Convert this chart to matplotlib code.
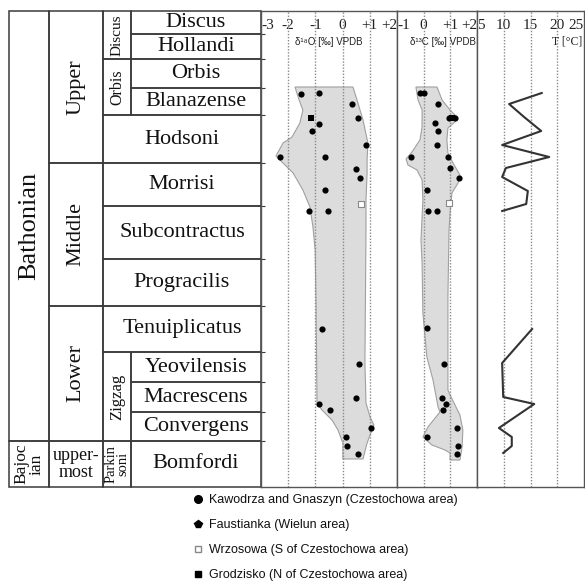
import matplotlib
matplotlib.use('Agg')
import matplotlib.pyplot as plt
from matplotlib.patches import Rectangle
from matplotlib.lines import Line2D

SERIF = ['Liberation Serif', 'DejaVu Serif']
SANS = ['Liberation Sans', 'DejaVu Sans']
LINE = '#3a3a3a'

# ── stratigraphy (heights in chart units, 0 = base of Bomfordi) ──
ZONES = ['Discus', 'Hollandi', 'Orbis', 'Blanazense', 'Hodsoni', 'Morrisi', 'Subcontractus',
         'Progracilis', 'Tenuiplicatus', 'Yeovilensis', 'Macrescens', 'Convergens', 'Bomfordi']
ZONE_BOUNDS = [476, 453, 428, 399, 372, 324, 281, 228, 181, 135, 105, 75, 46, 0]
ZONE_HAS_SUB = [True, True, True, True, False, False, False, False, False, True, True, True, True]

STAGES = ['Bathonian', 'Bajoc\nian']
STAGE_SPAN = [(46, 476), (0, 46)]
SUBSTAGES = ['Upper', 'Middle', 'Lower', 'upper-\nmost']
SUBSTAGE_SPAN = [(324, 476), (181, 324), (46, 181), (0, 46)]
SUBZONES = ['Discus', 'Orbis', 'Zigzag', 'Parkin\nsoni']
SUBZONE_SPAN = [(428, 476), (372, 428), (46, 135), (0, 46)]

# ── d18O ──
o18_h = [393, 394, 383, 369, 363, 356, 342, 330, 330, 318, 309, 297, 276, 276,
         158, 123, 89, 83, 77, 59, 50, 41, 33]
o18_v = [-1.54, -0.88, 0.33, 0.55, -0.85, -1.14, 0.85, -2.30, -0.66, 0.51, 0.63, -0.66, -1.25, -0.55,
         -0.74, 0.59, 0.51, -0.85, -0.48, 1.03, 0.11, 0.15, 0.55]
o18_grod = (-1.18, 369)
o18_wrzo = (0.66, 283)
o18_env_v = [-1.75, -1.60, -1.46, -1.57, -1.86, -2.19, -2.45, -2.19, -1.82, -1.46, -1.20, -1.09, -1.01,
             -0.98, -0.94, -0.76, -0.39, -0.17, 0.01, 0.01,
             0.75, 0.90, 1.04, 1.15, 1.01, 0.86, 0.82, 0.86, 0.86, 0.90, 0.90, 0.93, 0.75, 0.53, 0.38]
o18_env_h = [400, 387, 377, 364, 350, 344, 331, 324, 314, 297, 280, 260, 237,
             190, 84, 77, 67, 57, 44, 28,
             28, 44, 54, 62, 70, 84, 124, 257, 287, 314, 327, 344, 367, 387, 400]

# ── d13C ──
c13_h = [394, 394, 383, 369, 369, 364, 356, 342, 330, 330, 319, 309, 297, 276, 276,
         159, 123, 89, 83, 77, 59, 50, 41, 33]
c13_v = [-0.14, 0.01, 0.54, 0.95, 1.17, 0.42, 0.54, 0.50, -0.48, 0.91, 0.99, 1.32, 0.12, 0.16, 0.50,
         0.12, 0.76, 0.69, 0.84, 0.72, 1.25, 0.12, 1.29, 1.25]
c13_grod = (1.06, 369)
c13_wrzo = (0.95, 284)
c13_env_v = [-0.29, -0.21, -0.06, -0.06, -0.14, -0.44, -0.66, -0.59, -0.25, -0.06, -0.03, -0.10, -0.06,
             -0.03, 0.12, 0.35, 0.54, 0.61, 0.16, -0.03, 0.31, 0.80, 0.99, 0.99,
             1.36, 1.44, 1.47, 1.36, 0.99, 0.91, 0.91, 0.95, 0.99, 1.06, 1.29, 1.36, 1.10, 0.91,
             0.87, 0.91, 1.17, 1.25, 0.99, 0.69, 0.50]
c13_env_h = [400, 387, 377, 360, 347, 335, 328, 322, 317, 307, 287, 247, 224,
             174, 130, 107, 80, 75, 60, 50, 42, 37, 34, 27,
             27, 40, 57, 72, 92, 97, 190, 257, 274, 294, 304, 312, 324, 334,
             347, 359, 365, 370, 377, 387, 400]

# ── temperature ──
temp_h_upper = [394, 383, 370, 356, 342, 330, 319, 310, 296, 283, 276]
temp_v_upper = [17.1, 11.0, 13.8, 17.0, 9.7, 18.5, 10.4, 9.7, 14.5, 14.2, 9.7]
temp_h_lower = [158, 124, 90, 83, 59, 50, 41, 34]
temp_v_lower = [15.3, 9.7, 9.9, 15.7, 9.1, 11.5, 11.5, 9.9]

LEGEND = ['Kawodrza and Gnaszyn (Czestochowa area)', 'Faustianka (Wielun area)',
          'Wrzosowa (S of Czestochowa area)', 'Grodzisko (N of Czestochowa area)']

W, H = 585, 584
TOP, BOT = 11, 487


def rect(x0, x1):
    return [x0 / W, 1 - BOT / H, (x1 - x0) / W, (BOT - TOP) / H]


def cell(ax, x0, x1, y0, y1, label, size, rot=0, ls=1.2):
    ax.add_patch(Rectangle((x0, y0), x1 - x0, y1 - y0, fill=False, ec=LINE, lw=1.1, clip_on=False))
    ax.text((x0 + x1) / 2, (y0 + y1) / 2, label, ha='center', va='center', rotation=rot,
            fontsize=size, family=SERIF, linespacing=ls, color='#111')


fig = plt.figure(figsize=(W / 100, H / 100), dpi=100)

# ── table ──
COL = [0, 40, 94, 122, 252]
tab = fig.add_axes(rect(9, 261))
tab.set_xlim(0, 252); tab.set_ylim(0, 476); tab.axis('off')
for lbl, (y0, y1) in zip(STAGES, STAGE_SPAN):
    big = lbl == 'Bathonian'
    cell(tab, COL[0], COL[1], y0, y1, lbl, 19 if big else 12.5, rot=90, ls=1.0)
for lbl, (y0, y1) in zip(SUBSTAGES, SUBSTAGE_SPAN):
    rot = 0 if '\n' in lbl else 90
    cell(tab, COL[1], COL[2], y0, y1, lbl, 13 if rot == 0 else 16, rot=rot, ls=0.95)
for lbl, (y0, y1) in zip(SUBZONES, SUBZONE_SPAN):
    size = {'Discus': 11, 'Orbis': 11.5, 'Zigzag': 12}.get(lbl, 10.5)
    cell(tab, COL[2], COL[3], y0, y1, lbl, size, rot=90, ls=0.85)
for i, z in enumerate(ZONES):
    x0 = COL[3] if ZONE_HAS_SUB[i] else COL[2]
    cell(tab, x0, COL[4], ZONE_BOUNDS[i + 1], ZONE_BOUNDS[i], z, 16)


def panel(x0, x1, lim, ticks, labels, grid):
    ax = fig.add_axes(rect(x0, x1))
    ax.set_xlim(*lim); ax.set_ylim(0, 476)
    for s in ax.spines.values():
        s.set_color('#555'); s.set_linewidth(1.0)
    ax.set_yticks([])
    ax.xaxis.tick_top()
    ax.set_xticks(ticks)
    ax.set_xticklabels(labels, family=SERIF, fontsize=11, color='#222')
    ax.tick_params(axis='x', length=0, pad=-15)
    tl = ax.get_xticklabels()
    tl[0].set_ha('left'); tl[-1].set_ha('right')
    for g in grid:
        ax.axvline(g, color='#8a8a8a', ls=(0, (1, 1.2)), lw=1.0, zorder=2)
    return ax


def dots(ax, v, h, grod, wrzo):
    ax.scatter(v, h, s=20, c='black', zorder=4, lw=0)
    ax.scatter([grod[0]], [grod[1]], s=22, marker='s', c='black', zorder=4, lw=0)
    ax.scatter([wrzo[0]], [wrzo[1]], s=22, marker='s', c='white', edgecolors='#888', zorder=4, lw=0.8)


ax1 = panel(261, 397, (-3, 2), [-3, -2, -1, 0, 1, 2], ['-3', '-2', '-1', '0', '+1', '+2'], [-2, -1, 0, 1])
ax1.fill(o18_env_v, o18_env_h, fc='#dcdcdc', ec='#a0a0a0', lw=0.8, zorder=1)
dots(ax1, o18_v, o18_h, o18_grod, o18_wrzo)
ax1.set_yticks(ZONE_BOUNDS[1:-1])
ax1.tick_params(axis='y', direction='in', length=3, color=LINE, labelleft=False)
ax1.text(-0.5, 445, 'δ¹⁸O [‰] VPDB', ha='center', va='center', fontsize=7, family=SANS, color='#222')

ax2 = panel(397, 477, (-1, 2), [-1, 0, 1, 2], ['-1', '0', '+1', '+2'], [0, 1])
ax2.fill(c13_env_v, c13_env_h, fc='#dcdcdc', ec='#a0a0a0', lw=0.8, zorder=1)
dots(ax2, c13_v, c13_h, c13_grod, c13_wrzo)
ax2.text(0.72, 445, 'δ¹³C [‰] VPDB', ha='center', va='center', fontsize=7, family=SANS, color='#222')

ax3 = panel(477, 584, (5, 25), [5, 10, 15, 20, 25], ['5', '10', '15', '20', '25'], [10, 15, 20])
ax3.plot(temp_v_upper, temp_h_upper, color='#333', lw=1.5, zorder=3)
ax3.plot(temp_v_lower, temp_h_lower, color='#333', lw=1.5, zorder=3)
ax3.text(24.7, 445, 'T [°C]', ha='right', va='center', fontsize=8.5, family=SERIF, color='#222')

handles = [Line2D([], [], ls='', marker='o', ms=5.5, mfc='black', mec='black'),
           Line2D([], [], ls='', marker='p', ms=5.5, mfc='black', mec='black'),
           Line2D([], [], ls='', marker='s', ms=5, mfc='white', mec='#888'),
           Line2D([], [], ls='', marker='s', ms=5, mfc='black', mec='black')]
leg = fig.legend(handles, LEGEND, loc='upper left', bbox_to_anchor=(193 / W, 1 - 494 / H),
                 frameon=False, handlelength=0.8, handletextpad=0.5, labelspacing=1.05,
                 borderpad=0, borderaxespad=0, prop={'family': SANS, 'size': 9})
for t in leg.get_texts():
    t.set_color('#111')

fig.savefig('out.png', dpi=100)
